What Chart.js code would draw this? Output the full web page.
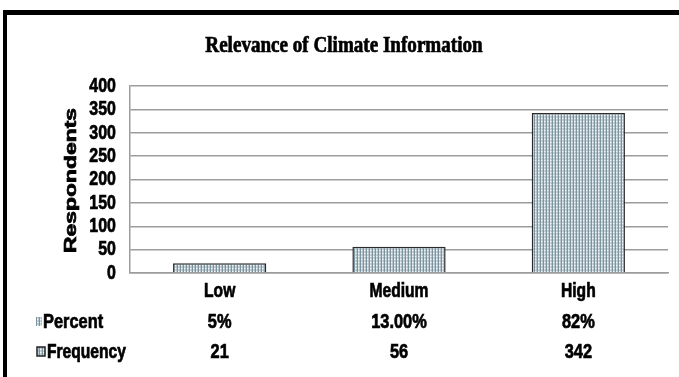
<!DOCTYPE html>
<html>
<head>
<meta charset="utf-8">
<title>Relevance of Climate Information</title>
<script src="https://cdn.jsdelivr.net/npm/chart.js@4.4.1/dist/chart.umd.min.js"></script>
<style>
  html, body { margin: 0; padding: 0; background: #ffffff; }
  canvas { display: block; }
</style>
</head>
<body>
<canvas id="chart" width="679" height="377"></canvas>
<script>
// Survey answers: how relevant respondents find climate information
const categories = ['Low', 'Medium', 'High'];
const frequency = [21, 56, 342];
const percentLabels = ['5%', '13.00%', '82%'];
const rowNames = ['Percent', 'Frequency'];
const yTickValues = [0, 50, 100, 150, 200, 250, 300, 350, 400];
const chartTitle = 'Relevance of Climate Information';
const yAxisTitle = 'Respondents';

const SANS = "'Liberation Sans', Arial, sans-serif";
const SERIF = "'Liberation Serif', 'Times New Roman', serif";
const GRID = '#9c9c9c';
const NARROW = 0.78;   // condensed lettering

const canvas = document.getElementById('chart');
const ctx = canvas.getContext('2d');

// Small dotted tile used as the bar fill
function makePattern() {
  const tile = document.createElement('canvas');
  tile.width = 3; tile.height = 3;
  const g = tile.getContext('2d');
  g.fillStyle = '#c8d4da'; g.fillRect(0, 0, 3, 3);
  g.fillStyle = '#7d949f'; g.fillRect(0, 0, 1, 3);
  g.fillStyle = '#f3f7f9'; g.fillRect(1, 1, 1, 1);
  g.fillStyle = '#aebec6'; g.fillRect(2, 0, 1, 1); g.fillRect(2, 2, 1, 1);
  return ctx.createPattern(tile, 'repeat');
}
const barFill = makePattern();

// Draw heavy text squeezed horizontally (sx) around its anchor point
function narrowText(c, text, x, y, font, align, sx, sy) {
  c.save();
  c.translate(x, y);
  c.scale(sx, sy || 1);
  c.font = font;
  c.textAlign = align;
  c.textBaseline = 'middle';
  c.lineWidth = 0.7;
  c.strokeStyle = '#000';
  c.fillText(text, 0, 0);
  c.strokeText(text, 0, 0);
  c.restore();
}

// Black frame lines along the top and left edge
const framePlugin = {
  id: 'frame',
  afterDraw(chart) {
    const c = chart.ctx;
    c.save();
    c.fillStyle = '#000';
    c.fillRect(3, 10, 676, 5);
    c.fillRect(3, 10, 4, 367);
    c.restore();
  }
};

// Title, axis labels and the data table, placed from the chart scales
const labelPlugin = {
  id: 'labels',
  afterDraw(chart) {
    const c = chart.ctx;
    const x = chart.scales.x;
    const y = chart.scales.y;
    const area = chart.chartArea;
    c.save();
    c.fillStyle = '#000';

    // chart title
    narrowText(c, chartTitle, 344, 46, 'bold 23px ' + SERIF, 'center', 0.83);

    // y tick labels
    y.ticks.forEach(t => {
      narrowText(c, String(t.value), area.left - 14, y.getPixelForValue(t.value),
        'bold 21px ' + SANS, 'right', 0.76);
    });

    // y axis title, fitted to the height it spans
    const tFont = 'bold 19px ' + SANS;
    c.font = tFont;
    const tw = c.measureText(yAxisTitle).width;
    c.save();
    c.translate(72, (area.top + area.bottom) / 2 + 1);
    c.rotate(-Math.PI / 2);
    c.scale(145 / tw, 0.85);
    c.font = tFont;
    c.textAlign = 'center';
    c.textBaseline = 'middle';
    c.lineWidth = 0.8;
    c.strokeStyle = '#000';
    c.fillText(yAxisTitle, 0, 0);
    c.strokeText(yAxisTitle, 0, 0);
    c.restore();

    // category labels
    categories.forEach((cat, i) => {
      narrowText(c, cat, x.getPixelForValue(i), 291, 'bold 20px ' + SANS, 'center', NARROW);
    });

    // data table rows
    const rows = [
      { y: 322, values: percentLabels },
      { y: 352, values: frequency.map(String) }
    ];
    rows.forEach(r => {
      r.values.forEach((v, i) => {
        narrowText(c, v, x.getPixelForValue(i), r.y, 'bold 21px ' + SANS, 'center', NARROW);
      });
    });

    // row keys and names
    c.fillStyle = barFill;
    c.fillRect(36, 317, 6, 9);
    c.fillRect(37, 347, 8, 9);
    c.strokeStyle = '#222';
    c.lineWidth = 1.5;
    c.strokeRect(37, 347, 8, 9);
    c.fillStyle = '#000';
    narrowText(c, rowNames[0], 43, rows[0].y, 'bold 21px ' + SANS, 'left', NARROW);
    narrowText(c, rowNames[1], 47, rows[1].y, 'bold 20px ' + SANS, 'left', NARROW);
    c.restore();
  }
};

new Chart(ctx, {
  type: 'bar',
  data: {
    labels: categories,
    datasets: [{
      label: 'Frequency',
      data: frequency,
      backgroundColor: barFill,
      borderColor: '#2b2b2b',
      borderWidth: { top: 1.5, left: 1.5, right: 1.5, bottom: 0 },
      borderSkipped: 'start',
      categoryPercentage: 1,
      barPercentage: 0.52
    }]
  },
  options: {
    responsive: false,
    animation: false,
    devicePixelRatio: 1,
    layout: { padding: { left: 0, right: 11, top: 86, bottom: 0 } },
    plugins: {
      legend: { display: false },
      tooltip: { enabled: false },
      title: { display: false }
    },
    scales: {
      x: {
        grid: { display: false, drawTicks: false },
        border: { display: true, color: GRID, width: 1.5 },
        ticks: { display: false },
        afterFit(s) { s.height = 104; }
      },
      y: {
        min: 0,
        max: 400,
        afterBuildTicks(s) { s.ticks = yTickValues.map(v => ({ value: v })); },
        grid: { color: GRID, lineWidth: 1.5, drawTicks: false },
        border: { display: true, color: GRID, width: 1.5 },
        ticks: { display: false, autoSkip: false },
        afterFit(s) { s.width = 130; }
      }
    }
  },
  plugins: [framePlugin, labelPlugin]
});
</script>
</body>
</html>
